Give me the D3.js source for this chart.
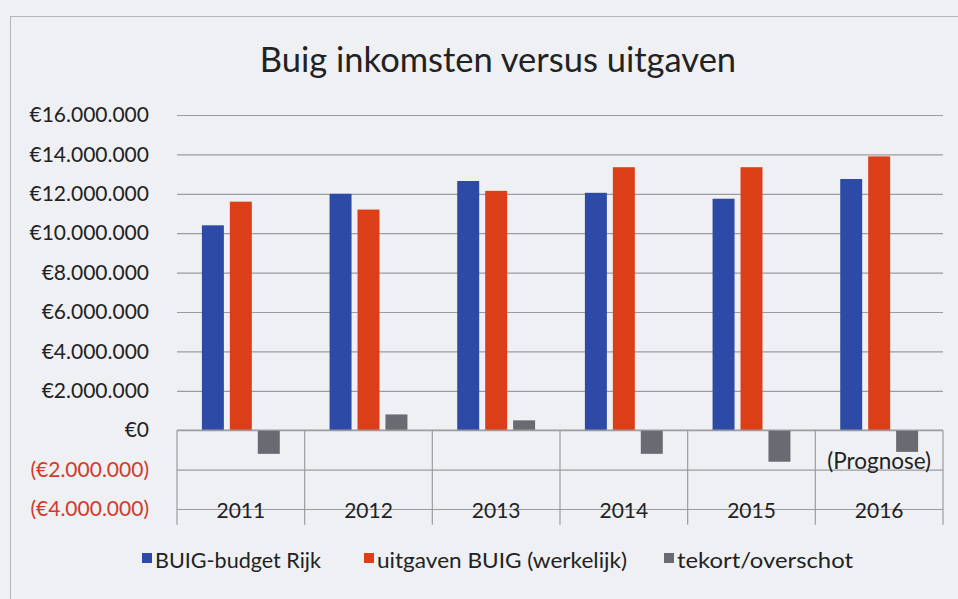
<!DOCTYPE html>
<html>
<head>
<meta charset="utf-8">
<script src="https://cdn.jsdelivr.net/npm/d3@7"></script>
<style>
  body { margin: 0; background: #eef0f4; }
  svg { display: block; font-family: Lato, "Open Sans", sans-serif; }
</style>
</head>
<body>
<div id="chart"></div>
<script>
// values in euro
var years = ['2011', '2012', '2013', '2014', '2015', '2016'];
var budgetRijk = [10400000, 12000000, 12650000, 12050000, 11750000, 12750000];
var uitgaven = [11600000, 11200000, 12150000, 13350000, 13350000, 13900000];
var tekort = [-1200000, 800000, 500000, -1200000, -1600000, -1100000];
var seriesNames = ['BUIG-budget Rijk', 'uitgaven BUIG (werkelijk)', 'tekort/overschot'];
var yTicks = [-4000000, -2000000, 0, 2000000, 4000000, 6000000, 8000000, 10000000, 12000000, 14000000, 16000000];

var colors = ['#2d4aa6', '#dc3f18', '#6a6a72'];

var svgWidth = 958, svgHeight = 599;
var margin = { left: 177, right: 15, top: 115, bottom: 90 };

var svg = d3.select('#chart').append('svg')
  .attr('width', svgWidth)
  .attr('height', svgHeight);

// outer border of the chart box
svg.append('rect')
  .attr('x', 10.5).attr('y', 16.5)
  .attr('width', 960).attr('height', 600)
  .attr('fill', 'none')
  .attr('stroke', '#b4b6ba');

var width = svgWidth - margin.left - margin.right;
var g = svg.append('g')
  .attr('transform', 'translate(' + margin.left + ',' + margin.top + ')');

var y = d3.scaleLinear()
  .domain([-4000000, 16000000])
  .range([394, 0]);

var x0 = d3.scaleBand()
  .domain(years)
  .range([0, 766])
  .paddingInner(0.39)
  .paddingOuter(0.195);

var x1 = d3.scaleBand()
  .domain([0, 1, 2])
  .range([0, x0.bandwidth()])
  .paddingInner(0.214)
  .paddingOuter(0);

var nl = d3.formatLocale({ decimal: ',', thousands: '.', grouping: [3], currency: ['€', ''] });
var fmt = nl.format(',.0f');
function euro(v) {
  return v < 0 ? '(€' + fmt(-v) + ')' : '€' + fmt(v);
}

// gridlines
g.append('g')
  .attr('class', 'grid')
  .call(d3.axisLeft(y).tickValues(yTicks).tickSize(-766).tickFormat(''))
  .call(function(s) { s.select('.domain').remove(); })
  .selectAll('line')
  .attr('stroke', '#9c9c9e')
  .attr('stroke-width', 1.2);

// category dividers below zero
var bounds = years.map(function(d) { return x0(d) - x0.step() * x0.paddingInner() / 2; });
bounds.push(766);
g.append('g').selectAll('line')
  .data(bounds)
  .enter().append('line')
  .attr('x1', function(d) { return d; })
  .attr('x2', function(d) { return d; })
  .attr('y1', y(0))
  .attr('y2', y(-4800000))
  .attr('stroke', '#9c9c9e')
  .attr('stroke-width', 1.2);

// y axis labels
var yAxis = g.append('g')
  .call(d3.axisLeft(y).tickValues(yTicks).tickSize(0).tickPadding(28).tickFormat(euro));
yAxis.select('.domain').remove();
yAxis.selectAll('text')
  .attr('font-size', 21)
  .attr('font-family', 'Lato, sans-serif')
  .attr('fill', function(d) { return d < 0 ? '#d23a2a' : '#222'; });

// bars
var rows = years.map(function(yr, i) {
  return { year: yr, vals: [budgetRijk[i], uitgaven[i], tekort[i]] };
});
var groups = g.selectAll('.grp')
  .data(rows)
  .enter().append('g')
  .attr('transform', function(d) { return 'translate(' + x0(d.year) + ',0)'; });
groups.selectAll('rect')
  .data(function(d) { return d.vals; })
  .enter().append('rect')
  .attr('x', function(d, i) { return x1(i); })
  .attr('width', x1.bandwidth())
  .attr('y', function(d) { return y(Math.max(0, d)); })
  .attr('height', function(d) { return Math.abs(y(d) - y(0)); })
  .attr('fill', function(d, i) { return colors[i]; });

// zero line
g.append('line')
  .attr('x1', 0).attr('x2', 766)
  .attr('y1', y(0)).attr('y2', y(0))
  .attr('stroke', '#9c9c9e')
  .attr('stroke-width', 1.2);

// category labels (low position)
g.append('g').selectAll('text')
  .data(years)
  .enter().append('text')
  .attr('x', function(d) { return x0(d) + x0.bandwidth() / 2; })
  .attr('y', y(-4000000) + 9)
  .attr('text-anchor', 'middle')
  .attr('font-size', 21)
  .attr('fill', '#222')
  .text(function(d) { return d; });

g.append('text')
  .attr('x', x0('2016') + x0.bandwidth() / 2)
  .attr('y', y(-2000000) - 1)
  .attr('text-anchor', 'middle')
  .attr('font-size', 22.5)
  .attr('fill', '#222')
  .text('(Prognose)');

// title
svg.append('text')
  .attr('x', 498)
  .attr('y', 72)
  .attr('text-anchor', 'middle')
  .attr('font-size', 34.5)
  .attr('fill', '#222')
  .text('Buig inkomsten versus uitgaven');

// legend (Calibri in the original is a bit wider here, fit to its widths)
var legendX = [142, 364, 664];
var legendW = [166, 250, 176];
var legend = svg.append('g').selectAll('g')
  .data(seriesNames)
  .enter().append('g')
  .attr('transform', function(d, i) { return 'translate(' + legendX[i] + ',558)'; });
legend.append('rect')
  .attr('x', 0).attr('y', -5)
  .attr('width', 10).attr('height', 10)
  .attr('fill', function(d, i) { return colors[i]; });
legend.append('text')
  .attr('x', 13)
  .attr('y', 10)
  .attr('font-size', 21)
  .attr('fill', '#222')
  .attr('textLength', function(d, i) { return legendW[i]; })
  .attr('lengthAdjust', 'spacingAndGlyphs')
  .text(function(d) { return d; });
</script>
</body>
</html>
